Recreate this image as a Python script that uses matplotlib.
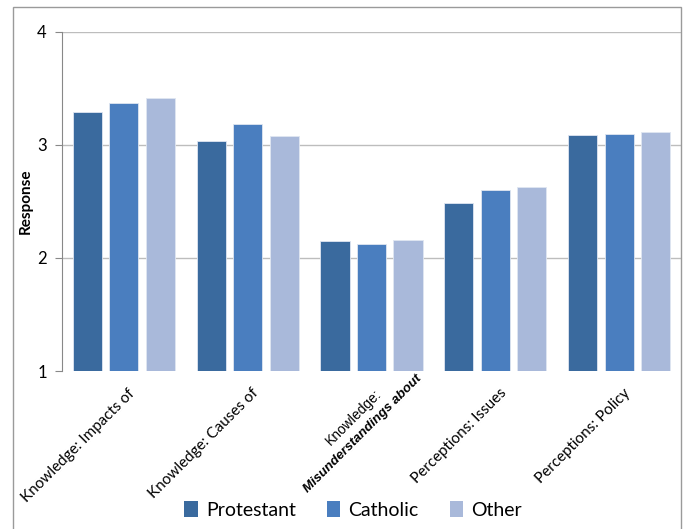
import matplotlib
matplotlib.use("Agg")
import matplotlib.pyplot as plt
import matplotlib.transforms as mtransforms
from matplotlib.patches import Rectangle, Patch
import numpy as np

categories = ["Knowledge: Impacts of", "Knowledge: Causes of",
              "Knowledge: Misunderstandings about", "Perceptions: Issues",
              "Perceptions: Policy"]
series_names = ["Protestant", "Catholic", "Other"]
protestant = [3.29, 3.035, 2.15, 2.49, 3.09]
catholic = [3.37, 3.19, 2.12, 2.60, 3.10]
other = [3.42, 3.08, 2.16, 2.63, 3.115]
yticks = [1, 2, 3, 4]
colors = ["#3A6A9E", "#4A7EBF", "#A9B9DA"]

plt.rcParams['font.family'] = ['Lato', 'DejaVu Sans']

fig = plt.figure(figsize=(6.86, 5.29), dpi=100)
W, H = 686, 529
ax = fig.add_axes([62 / W, (H - 371) / H, 619 / W, 339 / H])

# outer border
fig.patches.append(Rectangle((13 / W, -0.05), (681 - 13) / W, (H - 7) / H + 0.05,
                             transform=fig.transFigure, fill=False,
                             edgecolor="#9a9a9a", linewidth=1.0, zorder=0))

x = np.arange(len(categories))
bw = 0.235
off = 0.295
for i, (vals, c, name) in enumerate(zip([protestant, catholic, other], colors, series_names)):
    ax.bar(x + (i - 1) * off, np.array(vals) - 1, bw, bottom=1, color=c,
           edgecolor="#dfe6f1", linewidth=0.6, label=name, zorder=3)

ax.set_xlim(-0.5, len(categories) - 0.5)
ax.set_ylim(1, 4)
ax.set_yticks(yticks)
ax.set_yticklabels([str(t) for t in yticks], fontsize=12)
ax.tick_params(axis='y', length=5, color="#888888", pad=6)
ax.set_xticks([])
for yv in yticks[1:]:
    ax.axhline(yv, color="#bdbdbd", linewidth=1.0, zorder=1)
for s in ["top", "right", "bottom"]:
    ax.spines[s].set_visible(False)
ax.spines["left"].set_color("#888888")
ax.set_ylabel("Response", fontsize=11, fontweight="bold", labelpad=3)

# category labels (rotated 45°, right end at the category centre)
trans = mtransforms.blended_transform_factory(ax.transData, ax.transAxes)
for i, cat in enumerate(categories):
    if i == 2:
        ax.text(i + 0.02, -0.045, "Knowledge:", transform=trans, rotation=45,
                ha="right", va="top", rotation_mode="anchor", fontsize=10,
                family=["Liberation Sans", "DejaVu Sans"])
        ax.text(i + 0.355, -0.005, "Misunderstandings about", transform=trans,
                rotation=45, ha="right", va="top", rotation_mode="anchor",
                fontsize=9.5, fontweight="bold", fontstyle="italic",
                family=["Liberation Sans", "DejaVu Sans"])
    else:
        ax.text(i + 0.03, -0.045, cat, transform=trans, rotation=45,
                ha="right", va="top", rotation_mode="anchor", fontsize=11)

handles = [Patch(facecolor=c, edgecolor="none") for c in colors]
fig.legend(handles, series_names, loc="center", bbox_to_anchor=(353 / W, (H - 510) / H),
           ncol=3, frameon=False, fontsize=14, handlelength=0.7, handleheight=0.9,
           handletextpad=0.4, columnspacing=1.6)

fig.savefig("out.png", dpi=100)
